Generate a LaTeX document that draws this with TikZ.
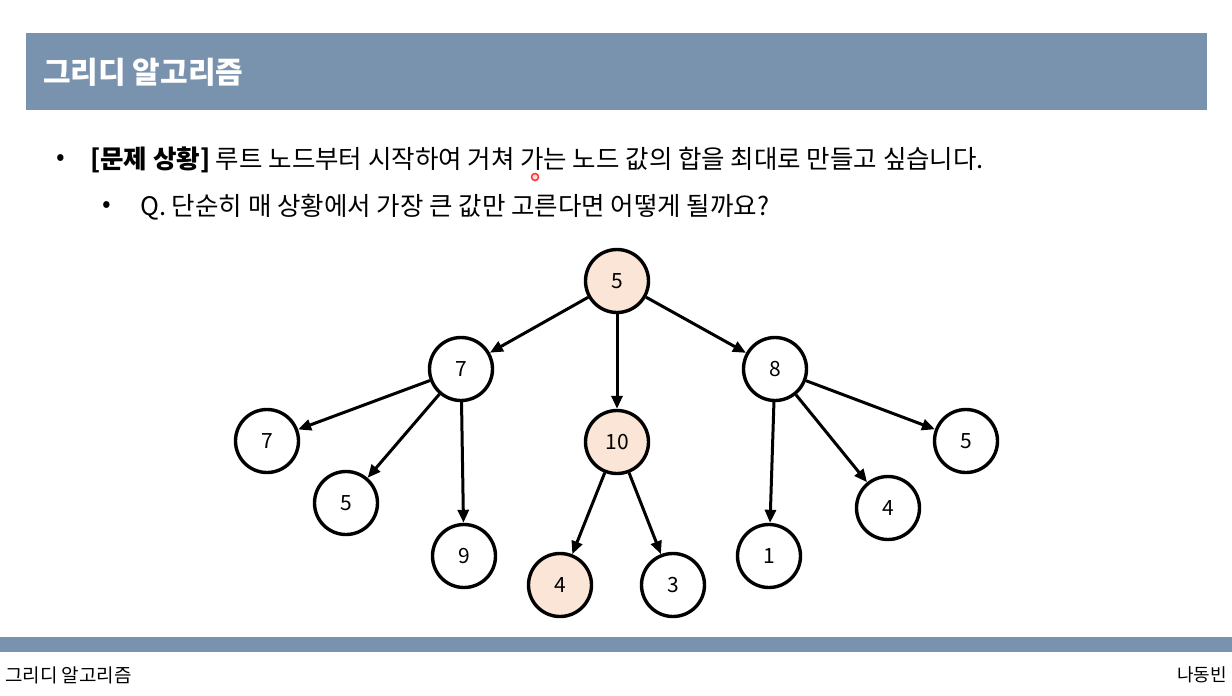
\documentclass[tikz,border=0pt]{standalone}
\usepackage{fontspec}
\setmainfont{Noto Sans CJK KR}
\usepackage{tikz}
\usetikzlibrary{arrows.meta,positioning}
\definecolor{slateblue}{RGB}{121,147,174}
\definecolor{peach}{RGB}{251,229,214}

\begin{document}
\begin{tikzpicture}[x=1pt, y=-1pt,
    num/.style={circle, draw, line width=3.4pt, fill=white, minimum size=63pt,
                inner sep=0pt, font=\fontsize{21}{21}\selectfont},
    picked/.style={num, fill=peach},
    line/.style={-{Triangle[length=13pt,width=11pt]}, line width=3pt},
    txt/.style={anchor=west, inner sep=0pt, font=\fontsize{25.5}{25.5}\selectfont},
    foot/.style={inner sep=0pt, font=\fontsize{19}{19}\selectfont}
]
\useasboundingbox[fill=white] (0,0) rectangle (1232,696);

% title bar
\fill[slateblue] (26,33) rectangle (1207,110);
\node[anchor=west, inner sep=0pt, text=white, font=\fontsize{30}{30}\selectfont\bfseries]
     (title) at (43,72) {그리디 알고리즘};

% bullets
\node[txt] (dot1) at (56,160) {•};
\node[txt] (line1) at (90,160) {\textbf{[문제 상황]} 루트 노드부터 시작하여 거쳐 가는 노드 값의 합을 최대로 만들고 싶습니다.};
\node[txt] (dot2) at (102,207) {•};
\node[txt] (line2) at (140,207) {Q. 단순히 매 상황에서 가장 큰 값만 고른다면 어떻게 될까요?};
\draw[red!80, line width=1.5pt, fill=red!15] (535,177) circle (3.5);

% tree
\node[picked] (root) at (617,281) {5};
\node[num] (l7) at (461,369) {7};
\node[picked] (m10) at (617,442) {10};
\node[num] (r8) at (775,369) {8};
\node[num] (l7a) at (267,441) {7};
\node[num] (l5) at (346,503) {5};
\node[num] (l9) at (464,556) {9};
\node[picked] (m4) at (560,585) {4};
\node[num] (m3) at (673,585) {3};
\node[num] (r1) at (769,556) {1};
\node[num] (r4) at (888,508) {4};
\node[num] (r5) at (966,441) {5};

\draw[line] (root) -- (l7);
\draw[line] (root) -- (m10);
\draw[line] (root) -- (r8);
\draw[line] (l7) -- (l7a);
\draw[line] (l7) -- (l5);
\draw[line] (l7) -- (l9);
\draw[line] (m10) -- (m4);
\draw[line] (m10) -- (m3);
\draw[line] (r8) -- (r1);
\draw[line] (r8) -- (r4);
\draw[line] (r8) -- (r5);

% footer
\fill[slateblue] (0,637) rectangle (1232,652);
\node[foot, anchor=west] (course) at (5,675) {그리디 알고리즘};
\node[foot, anchor=east, font=\fontsize{18}{18}\selectfont] (author) at (1227,675) {나동빈};
\end{tikzpicture}
\end{document}
